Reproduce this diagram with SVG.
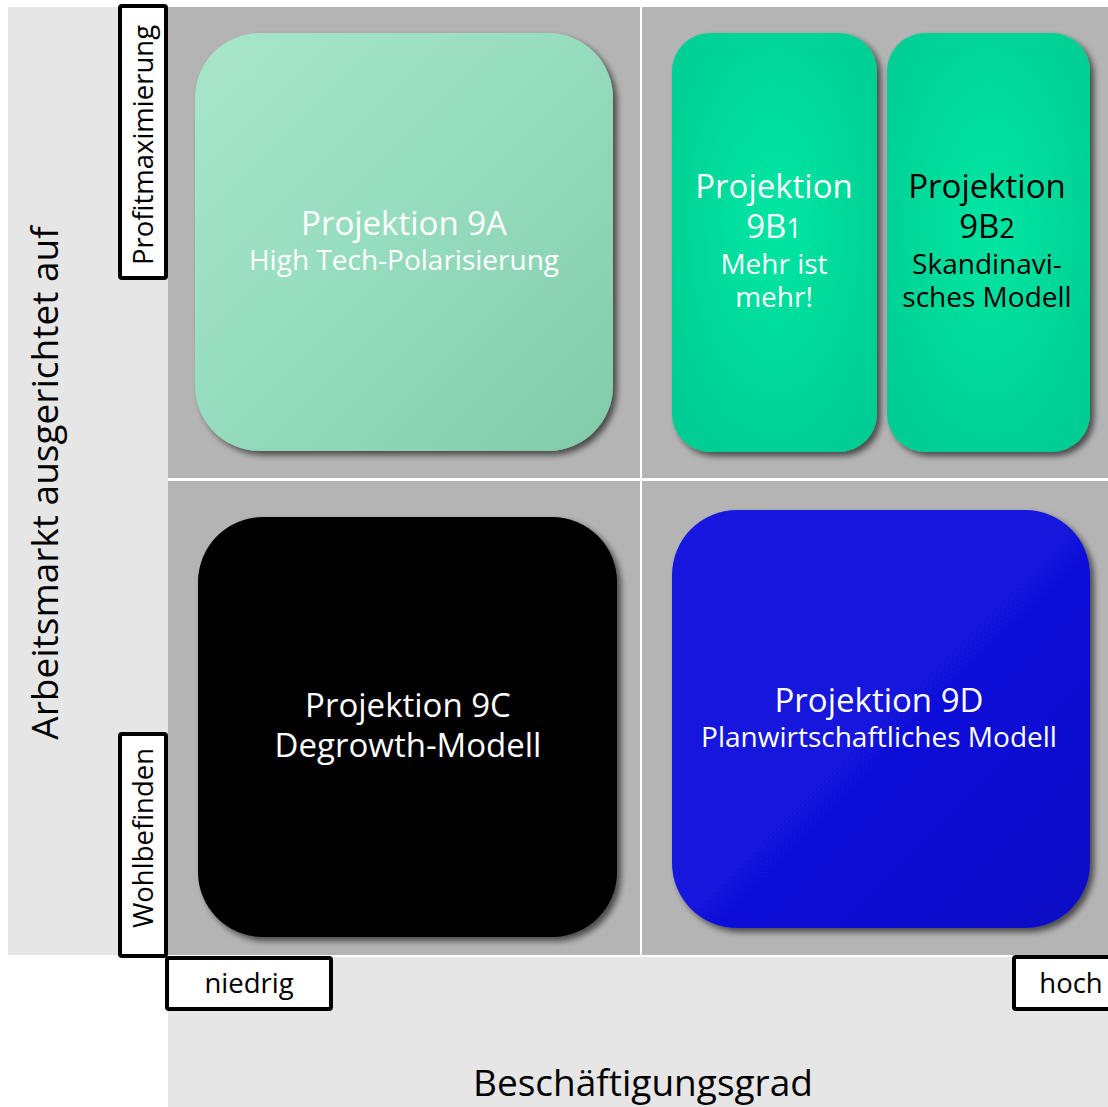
<svg xmlns="http://www.w3.org/2000/svg" width="1108" height="1107" viewBox="0 0 1108 1107">
<defs>
<style>
text{font-family:"Open Sans","Liberation Sans",Arial,sans-serif;text-anchor:middle}
.w{fill:#ffffff}.k{fill:#000000}
.big{font-size:33px}.mid{font-size:28px}.lab{font-size:27.5px}.axis{font-size:37px}
.box{fill:#ffffff;stroke:#000000;stroke-width:4}
</style>
<linearGradient id="gA" x1="0" y1="0" x2="1" y2="1">
<stop offset="0" stop-color="#a8e6cb"/><stop offset="0.5" stop-color="#95dcbe"/><stop offset="1" stop-color="#82cba9"/>
</linearGradient>
<radialGradient id="gB" cx="0.5" cy="0.45" r="0.7">
<stop offset="0" stop-color="#00e6a2"/><stop offset="0.6" stop-color="#00d698"/><stop offset="1" stop-color="#00cc92"/>
</radialGradient>
<linearGradient id="gD" x1="0" y1="0" x2="1" y2="1">
<stop offset="0" stop-color="#1a1ae0"/><stop offset="0.5" stop-color="#1212dc"/><stop offset="1" stop-color="#0808c4"/>
</linearGradient>
<filter id="sh" x="-10%" y="-10%" width="125%" height="125%">
<feGaussianBlur in="SourceAlpha" stdDeviation="3"/>
<feOffset dx="4" dy="4" result="b"/>
<feComponentTransfer><feFuncA type="linear" slope="0.6"/></feComponentTransfer>
<feMerge><feMergeNode/><feMergeNode in="SourceGraphic"/></feMerge>
</filter>
</defs>
<rect width="1108" height="1107" fill="#ffffff"/>
<g id="background">
<rect x="8" y="7" width="160" height="948" fill="#e6e6e6"/>
<rect x="168" y="957" width="940" height="150" fill="#e6e6e6"/>
<rect x="168" y="7" width="472" height="471" fill="#b4b4b4"/>
<rect x="642" y="7" width="466" height="471" fill="#b4b4b4"/>
<rect x="168" y="481" width="472" height="474" fill="#b4b4b4"/>
<rect x="642" y="481" width="466" height="474" fill="#b4b4b4"/>
</g>
<g id="node-9A">
<rect x="195" y="33" width="418" height="418" rx="65" fill="url(#gA)" filter="url(#sh)"/>
<text class="w big" x="404" y="235">Projektion 9A</text>
<text class="w mid" x="404" y="270">High Tech-Polarisierung</text>
</g>
<g id="node-9B1">
<rect x="672" y="33" width="205" height="419" rx="38" fill="url(#gB)" filter="url(#sh)"/>
<text class="w big" x="774" y="198">Projektion</text>
<text class="w big" x="774" y="238">9B<tspan font-size="27">1</tspan></text>
<text class="w mid" x="774" y="274">Mehr ist</text>
<text class="w mid" x="774" y="307">mehr!</text>
</g>
<g id="node-9B2">
<rect x="887" y="33" width="203" height="419" rx="38" fill="url(#gB)" filter="url(#sh)"/>
<text class="k big" x="987" y="198">Projektion</text>
<text class="k big" x="987" y="238">9B<tspan font-size="27">2</tspan></text>
<text class="k mid" x="987" y="274">Skandinavi-</text>
<text class="k mid" x="987" y="307">sches Modell</text>
</g>
<g id="node-9C">
<rect x="198" y="517" width="419" height="420" rx="65" fill="#000000" filter="url(#sh)"/>
<text class="w big" x="408" y="717">Projektion 9C</text>
<text class="w big" x="408" y="757">Degrowth-Modell</text>
</g>
<g id="node-9D">
<rect x="672" y="510" width="418" height="418" rx="65" fill="url(#gD)" filter="url(#sh)"/>
<text class="w big" x="879" y="712">Projektion 9D</text>
<text class="w mid" x="879" y="747">Planwirtschaftliches Modell</text>
</g>
<g id="labels">
<rect class="box" x="120" y="6" width="46" height="272" rx="2"/>
<text class="k lab" transform="translate(153,145) rotate(-90)">Profitmaximierung</text>
<rect class="box" x="120" y="734" width="46" height="222" rx="2"/>
<text class="k lab" transform="translate(153,838) rotate(-90)">Wohlbefinden</text>
<rect class="box" x="167" y="958" width="164" height="51" rx="2"/>
<text class="k lab" x="249" y="993">niedrig</text>
<rect class="box" x="1014" y="957" width="100" height="52" rx="2"/>
<text class="k lab" x="1071" y="993">hoch</text>
<text class="k axis" transform="translate(58,483) rotate(-90)">Arbeitsmarkt ausgerichtet auf</text>
<text class="k axis" x="643" y="1096">Beschäftigungsgrad</text>
</g>
<g id="connectors"/>
</svg>
